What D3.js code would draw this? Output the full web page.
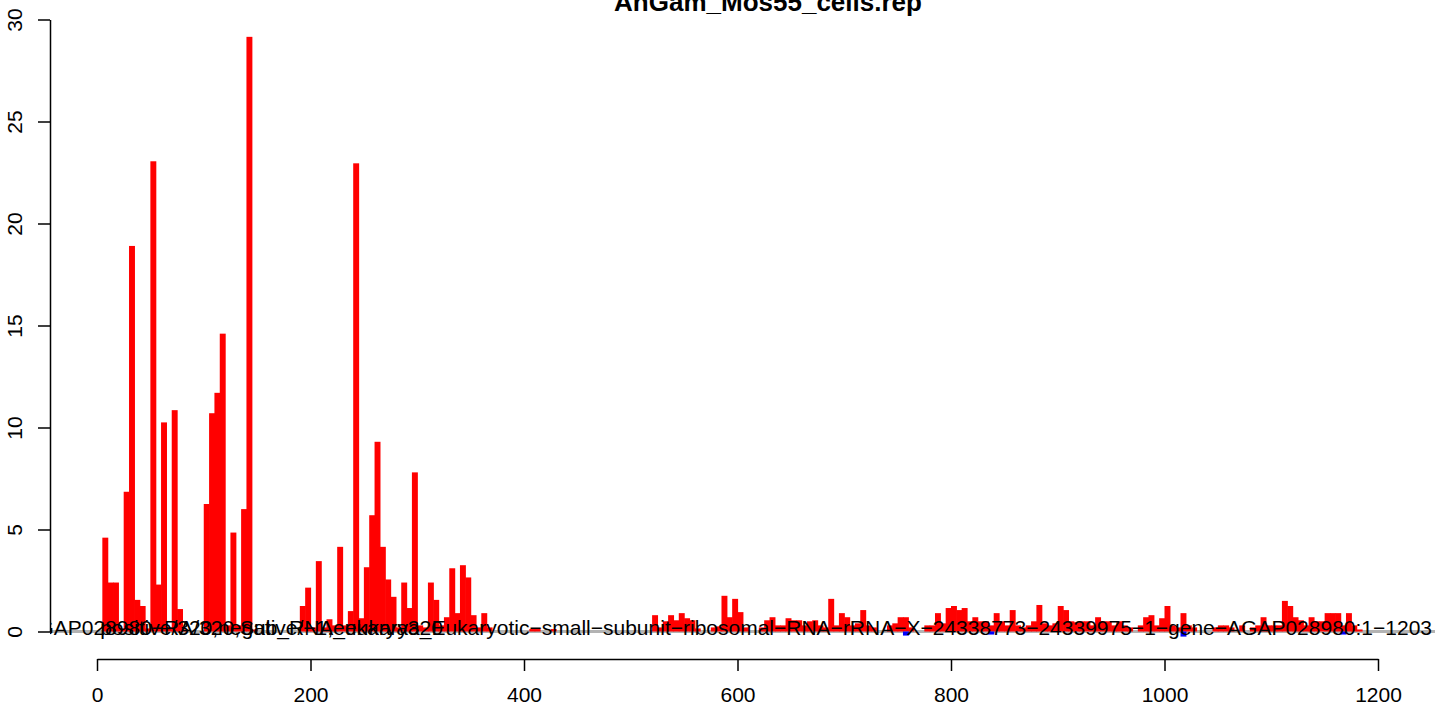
<!DOCTYPE html>
<html><head><meta charset="utf-8">
<script src="https://cdn.jsdelivr.net/npm/d3@7"></script>
<style>body{margin:0;background:#fff} svg{display:block} text{font-family:"Liberation Sans",Arial,Helvetica,sans-serif}</style>
</head><body><svg id="c" width="1435" height="709"></svg>
<script>
const title = "AnGam_Mos55_cells.rep";
const binWidth = 5;
const binStarts = [5,10,15,20,25,30,35,40,45,50,55,60,65,70,75,80,
 100,105,110,115,120,125,130,135,140,145,
 190,195,200,205,210,215,220,225,230,235,240,245,250,255,260,265,270,275,280,285,290,295,300,305,310,315,320,325,330,335,340,345,350,355,360,365,
 405,410,425,
 520,525,530,535,540,545,550,555,560,575,580,585,590,595,600,605,620,625,630,635,640,645,650,655,660,665,670,675,680,685,690,695,700,705,710,715,720,725,
 740,745,750,755,760,775,780,785,790,795,800,805,810,815,820,825,830,835,840,845,850,855,860,865,870,875,880,885,890,895,900,905,910,915,920,925,930,935,940,945,950,955,960,965,
 975,980,985,990,995,1000,1005,1010,1015,1020,1025,1045,1050,1055,1060,1070,1080,1085,1090,1095,1100,1105,1110,1115,1120,1125,1130,1135,1140,1145,1150,1155,1160,1165,1170,1175,1180];
const positiveValues = [4.6,2.4,2.4,0.15,6.85,18.9,1.55,1.25,0.15,23.05,2.3,10.25,0.2,10.85,1.1,0.1,
 6.25,10.7,11.7,14.6,0.3,4.85,0.3,6.0,29.15,0.1,
 1.25,2.15,0.2,3.45,0.2,0.6,0.3,4.15,0.3,1.0,22.95,0.65,3.15,5.7,9.3,4.15,2.55,1.7,0.2,2.4,1.15,7.8,0.3,0.2,2.4,1.55,0.3,0.7,3.1,0.9,3.25,2.65,0.8,0.2,0.9,0.2,
 0.12,0.12,0.12,
 0.8,0.2,0.5,0.8,0.55,0.9,0.65,0.55,0.15,0.2,0.25,1.75,0.7,1.6,0.95,0.2,0.2,0.55,0.7,0.3,0.3,0.65,0.55,0.55,0.3,0.5,0.55,0.3,0.2,1.6,0.3,0.9,0.7,0.3,0.4,1.05,0.3,0.2,
 0.3,0.4,0.7,0.7,0.2,0.3,0.3,0.9,0.4,1.15,1.25,1.05,1.15,0.5,0.7,0.5,0.5,0.3,0.9,0.5,0.3,1.05,0.3,0.2,0.3,0.5,1.3,0.4,0.3,0.4,1.25,1.05,0.5,0.45,0.5,0.5,0.3,0.7,0.5,0.5,0.3,0.5,0.3,0.2,
 0.3,0.7,0.8,0.3,0.65,1.25,0.3,0.2,0.9,0.3,0.2,0.2,0.3,0.3,0.2,0.3,0.2,0.3,0.7,0.3,0.3,0.3,1.5,1.25,0.7,0.55,0.3,0.7,0.5,0.5,0.9,0.9,0.9,0.3,0.9,0.3,0.1];
const negativeStarts = [755,835,1015,1165];
const negativeValues = [-0.2,-0.15,-0.25,-0.15];
const xTicks = [0,200,400,600,800,1000,1200];
const yTicks = [0,5,10,15,20,25,30];
const labelLong = "AGAP028980\u2212RA/320,Sub_RNA_eukarya_Eukaryotic\u2212small\u2212subunit\u2212ribosomal\u2212RNA\u2212rRNA\u2212X\u221224338773\u221224339975\u22121\u2212gene\u2212AGAP028980:1\u22121203";
const labelShort = "positive/320,negative/\u22121,eukarya320";

const svg = d3.select("#c");
const x = d3.scaleLinear().domain([0,1200]).range([97,1378]);
const y = d3.scaleLinear().domain([0,30]).range([631.5,19.5]);
const FS = 21;

svg.append("defs").append("clipPath").attr("id","plotclip")
  .append("rect").attr("x",50).attr("y",0).attr("width",1385).attr("height",709);

// gray zero line
svg.append("line").attr("x1",50).attr("x2",1435).attr("y1",y(0)).attr("y2",y(0))
  .attr("stroke","#b3b3b3").attr("stroke-width",3);

const pos = binStarts.map((s,i)=>({s, v:positiveValues[i]}));
svg.append("g").selectAll("rect").data(pos).join("rect")
  .attr("x",d=>x(d.s)).attr("width",d=>x(d.s+binWidth)-x(d.s)+0.6)
  .attr("y",d=>y(d.v)).attr("height",d=>y(0)-y(d.v))
  .attr("fill","#ff0000");

const neg = negativeStarts.map((s,i)=>({s, v:negativeValues[i]}));
svg.append("g").selectAll("rect").data(neg).join("rect")
  .attr("x",d=>x(d.s)).attr("width",d=>x(d.s+binWidth)-x(d.s)+0.6)
  .attr("y",y(0)).attr("height",d=>y(d.v)-y(0))
  .attr("fill","#0000ff");

// labels along the baseline
const lg = svg.append("g").attr("clip-path","url(#plotclip)").style("font-size",FS+"px");
lg.append("text").attr("x",1432).attr("y",y(0)+3).attr("text-anchor","end").text(labelLong);
lg.append("text").attr("x",x(3)).attr("y",y(0)+3).attr("text-anchor","start").text(labelShort);

// y axis
const ya = svg.append("g").attr("transform","translate(50,0)")
  .call(d3.axisLeft(y).tickValues(yTicks).tickSize(12).tickSizeOuter(0).tickFormat(d3.format("d")));
ya.select(".domain").attr("stroke","#000").attr("stroke-width",1.5);
ya.selectAll(".tick line").attr("stroke","#000").attr("stroke-width",1.5);
ya.selectAll(".tick text").attr("x",null).attr("dy",null).attr("y",null)
  .attr("transform","translate(-28,0) rotate(-90)").attr("text-anchor","middle")
  .attr("fill","#000").style("font-size",FS+"px").style("font-family",'"Liberation Sans",Arial,sans-serif');

// x axis
const xa = svg.append("g").attr("transform","translate(0,659)")
  .call(d3.axisBottom(x).tickValues(xTicks).tickSize(12).tickSizeOuter(0).tickFormat(d3.format("d")));
xa.select(".domain").attr("stroke","#000").attr("stroke-width",1.5);
xa.selectAll(".tick line").attr("stroke","#000").attr("stroke-width",1.5);
xa.selectAll(".tick text").attr("y",43).attr("dy",null)
  .attr("fill","#000").style("font-size",FS+"px").style("font-family",'"Liberation Sans",Arial,sans-serif');

// title
svg.append("text").attr("x",768).attr("y",11).attr("text-anchor","middle")
  .style("font-size","26px").style("font-weight","bold").text(title);
</script></body></html>
